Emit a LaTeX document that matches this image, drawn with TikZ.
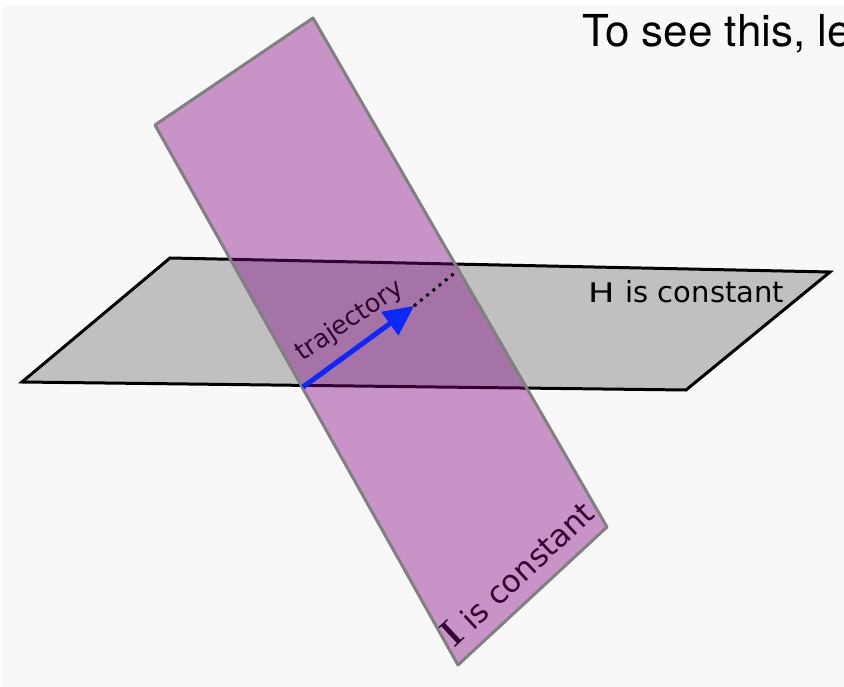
\documentclass[tikz,border=0pt]{standalone}
\usepackage{fontspec}
\newfontfamily\dejavu{DejaVu Sans}
\newfontfamily\heros{TeX Gyre Heros}
\newfontfamily\libsans{Liberation Sans}
\usetikzlibrary{arrows.meta}
\definecolor{bgc}{RGB}{248,248,248}
\definecolor{hplane}{RGB}{192,192,192}
\definecolor{pplane}{RGB}{128,0,128}
\definecolor{pedge}{RGB}{128,128,128}
\definecolor{trajblue}{RGB}{10,40,250}
\tikzset{
  planeH/.style={fill=hplane, draw=black, line width=3pt, line join=miter},
  planeI/.style={fill=pplane, fill opacity=0.4, draw=pedge, line width=3pt, line join=round},
  lbl/.style={inner sep=0pt, text=black},
  traj/.style={draw=trajblue, line width=5pt, -{Triangle[length=30pt,width=28pt]}},
  dots/.style={draw=black, line width=3pt, dash pattern=on 3pt off 5pt}
}
\begin{document}
\begin{tikzpicture}[x=1pt,y=-1pt]
\useasboundingbox (0,0) rectangle (844,687);
\clip (0,0) rectangle (844,687);
\fill[bgc] (2,5) rectangle (844,687);
% horizontal plane H
\coordinate (h1) at (170,258);
\coordinate (h2) at (830,272);
\coordinate (h3) at (686,390);
\coordinate (h4) at (22,382);
\path[planeH] (h1) -- (h2) -- (h3) -- (h4) -- cycle;
% labels under the purple plane
\node[lbl, anchor=base west, rotate=34, font={\dejavu\fontsize{25.5}{30}\selectfont}] (tl) at (302,362) {trajectory};
\node[lbl, anchor=base west, rotate=43, font={\dejavu\fontsize{31}{36}\selectfont}] (il) at (454,649) {{\rmfamily\bfseries\fontsize{38}{40}\selectfont I} is constant};
% slanted plane I
\coordinate (p1) at (155,125);
\coordinate (p2) at (313,18);
\coordinate (p3) at (607,527);
\coordinate (p4) at (458,665);
\path[planeI] (p1) -- (p2) -- (p3) -- (p4) -- cycle;
% H label
\node[lbl, anchor=base west, font={\dejavu\fontsize{29}{34}\selectfont}] (hl) at (588,302) {{\fontsize{27}{32}\selectfont\scalebox{1.3}[1]{H}}\hspace{11pt}is constant};
% trajectory
\coordinate (ta) at (303,387);
\coordinate (tb) at (414,306);
\coordinate (tc) at (457,271);
\draw[dots] (tb) -- (tc);
\draw[traj] (ta) -- (tb);
% top text
\node[lbl, anchor=base west, font={\heros\fontsize{44}{50}\selectfont}] (top) at (582,47) {To see this, le};
\end{tikzpicture}
\end{document}
